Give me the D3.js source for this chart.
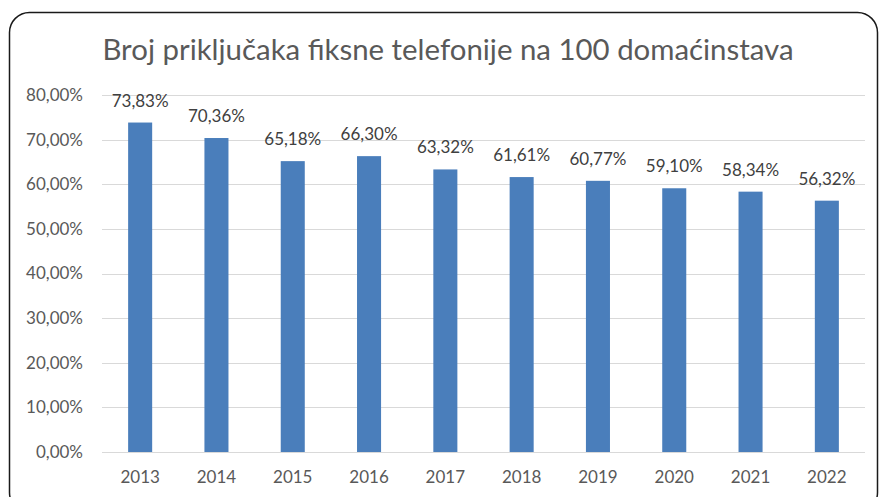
<!DOCTYPE html>
<html><head><meta charset="utf-8">
<script src="https://cdn.jsdelivr.net/npm/d3@7"></script>
<style>body{margin:0;background:#fff;}svg{display:block;}</style>
</head><body>
<svg id="c" width="880" height="497"></svg>
<script>
const title = "Broj priključaka fiksne telefonije na 100 domaćinstava";
const years = ["2013","2014","2015","2016","2017","2018","2019","2020","2021","2022"];
const values = [73.83,70.36,65.18,66.30,63.32,61.61,60.77,59.10,58.34,56.32];
const yTicks = [0,10,20,30,40,50,60,70,80];

const svg = d3.select("#c");
const font = "Lato, 'Open Sans', sans-serif";
const fmt = v => v.toFixed(2).replace(".", ",") + "%";

// frame
svg.append("rect").attr("x",9.5).attr("y",12.5).attr("width",868).attr("height",500)
  .attr("rx",20).attr("ry",20).attr("fill","#fff").attr("stroke","#1a1a1a").attr("stroke-width",1.5);

const x = d3.scaleBand().domain(years).range([102,865]).paddingInner(0.685).paddingOuter(0.3425);
const y = d3.scaleLinear().domain([0,80]).range([452,95]);

// grid
svg.append("g").selectAll("line").data(yTicks).join("line")
  .attr("x1",102).attr("x2",865).attr("y1",d=>Math.round(y(d))+0.5).attr("y2",d=>Math.round(y(d))+0.5)
  .attr("stroke","#d9d9d9").attr("stroke-width",1);

// y axis labels
svg.append("g").selectAll("text").data(yTicks).join("text")
  .attr("x",83).attr("y",d=>y(d)).attr("dy","0.35em").attr("text-anchor","end")
  .attr("font-family",font).attr("font-size",17).attr("fill","#595959")
  .text(d=>fmt(d));

// bars
svg.append("g").selectAll("rect").data(values).join("rect")
  .attr("x",(d,i)=>x(years[i])).attr("width",x.bandwidth())
  .attr("y",d=>y(d)).attr("height",d=>y(0)-y(d)).attr("fill","#4a7ebb");

// data labels
svg.append("g").selectAll("text").data(values).join("text")
  .attr("x",(d,i)=>x(years[i])+x.bandwidth()/2).attr("y",d=>y(d)-16)
  .attr("text-anchor","middle").attr("font-family",font).attr("font-size",17).attr("fill","#404040")
  .text(d=>fmt(d));

// x labels
svg.append("g").selectAll("text").data(years).join("text")
  .attr("x",d=>x(d)+x.bandwidth()/2).attr("y",483).attr("text-anchor","middle")
  .attr("font-family",font).attr("font-size",17).attr("fill","#595959").text(d=>d);

// title
svg.append("text").attr("x",448).attr("y",60).attr("text-anchor","middle")
  .attr("font-family",font).attr("font-size",29.4).attr("fill","#595959").text(title);
</script>
</body></html>
